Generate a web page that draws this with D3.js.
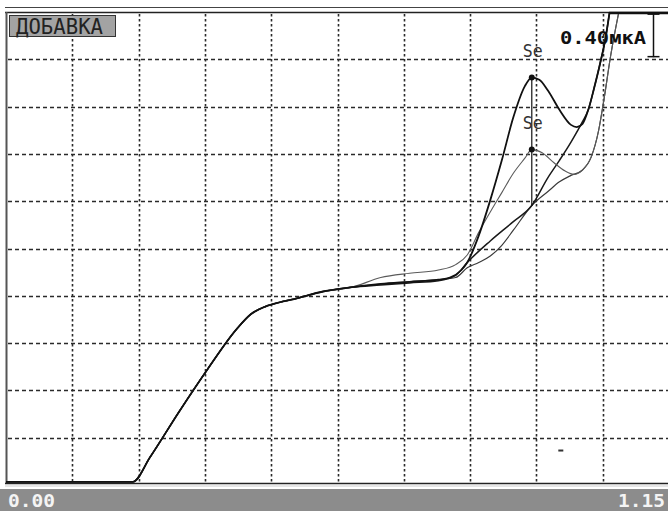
<!DOCTYPE html>
<html><head><meta charset="utf-8">
<script src="https://cdn.jsdelivr.net/npm/d3@7"></script>
<style>html,body{margin:0;padding:0;background:#fff;}svg{display:block;}</style>
</head><body>
<script>
// ---- data (potential in V, current in µA) ----
const xTickLabels = ["0.00", "1.15"];
const xDomain = [0, 1.15];
const yDomain = [0, 4.4];
const gridStepX = 0.115;
const gridStepY = 0.44;

const potentialCommon = [0, 0.22, 0.25, 0.30, 0.35, 0.40, 0.425, 0.45, 0.475, 0.50, 0.55, 0.60];
const currentCommon   = [0.03, 0.03, 0.26, 0.68, 1.08, 1.45, 1.59, 1.66, 1.70, 1.73, 1.80, 1.84];

const potentialA = [0.65,0.70,0.75,0.77,0.79,0.80,0.82,0.84,0.86,0.88,0.90,0.912,0.925,0.94,0.96,0.98,0.99,1.00,1.01,1.02,1.03,1.04,1.047];
const currentA   = [1.87,1.89,1.91,1.93,2.00,2.07,2.32,2.65,3.02,3.42,3.71,3.79,3.77,3.67,3.49,3.35,3.33,3.36,3.49,3.69,3.91,4.16,4.40];

const potentialB = [0.65,0.70,0.75,0.78,0.80,0.82,0.84,0.86,0.88,0.90,0.912,0.93,0.95,0.97,0.985,1.00,1.015,1.028,1.037,1.049,1.063];
const currentB   = [1.93,1.97,2.00,2.05,2.14,2.35,2.54,2.72,2.90,3.04,3.12,3.09,3.00,2.92,2.89,2.93,3.05,3.30,3.58,4.00,4.40];

const potentialC = [0.65,0.70,0.75,0.78,0.80,0.84,0.88,0.912,0.94,0.96,0.98,1.00,1.01,1.02,1.03,1.04,1.047];
const currentC   = [1.86,1.88,1.90,1.95,2.07,2.27,2.45,2.60,2.86,3.02,3.19,3.38,3.49,3.69,3.91,4.16,4.40];

const potentialD = [0.65,0.70,0.75,0.78,0.80,0.82,0.84,0.86,0.88,0.912,0.94,0.96,0.98,1.00,1.015,1.028,1.037,1.049,1.063];
const currentD   = [1.87,1.89,1.91,1.93,2.02,2.07,2.13,2.23,2.37,2.60,2.73,2.82,2.88,2.93,3.05,3.30,3.58,4.00,4.40];

const peakPotential = 0.912;
const peakCurrents = [3.79, 3.12];
const peakBase = 2.60;
const peakLabels = ["Se", "Se"];
const scaleBarValue = 0.40;
const scaleBarTop = 4.38;
const scaleBarLabel = "0.40мкА";
const modeLabel = "ДОБАВКА";
const stray = [[0.958, 0.33]];

// ---- drawing ----
const W = 668, H = 511;
const pLeft = 6, pRight = 669, pTop = 12, pBottom = 485;
const svg = d3.select("body").append("svg").attr("width", W).attr("height", H);

const x = d3.scaleLinear().domain(xDomain).range([pLeft, pRight]);
const y = d3.scaleLinear().domain(yDomain).range([pBottom, pTop]);

svg.append("defs").append("clipPath").attr("id", "plot")
  .append("rect").attr("x", pLeft).attr("y", pTop).attr("width", pRight - pLeft).attr("height", 483.5 - pTop);

// grid
const gx = d3.range(1, 10).map(i => i * gridStepX);
const gy = d3.range(1, 10).map(i => i * gridStepY);
svg.append("g").selectAll("line").data(gx).join("line")
  .attr("x1", d => Math.round(x(d)) + 0.5).attr("x2", d => Math.round(x(d)) + 0.5)
  .attr("y1", pTop + 2).attr("y2", 483)
  .attr("stroke", "#2a2a2a").attr("stroke-width", 1.6).attr("stroke-dasharray", "2.5,2.5");
svg.append("g").selectAll("line").data(gy).join("line")
  .attr("y1", d => Math.round(y(d)) + 0.5).attr("y2", d => Math.round(y(d)) + 0.5)
  .attr("x1", pLeft + 2).attr("x2", W)
  .attr("stroke", "#2a2a2a").attr("stroke-width", 1.6).attr("stroke-dasharray", "4,3");

// frame
svg.append("line").attr("x1", 5).attr("x2", W).attr("y1", 7.5).attr("y2", 7.5).attr("stroke", "#444").attr("stroke-width", 1);
svg.append("line").attr("x1", 5).attr("x2", W).attr("y1", 12.5).attr("y2", 12.5).attr("stroke", "#222").attr("stroke-width", 1.5);
svg.append("line").attr("x1", 6.5).attr("x2", 6.5).attr("y1", 12).attr("y2", 484).attr("stroke", "#555").attr("stroke-width", 2);
svg.append("line").attr("x1", 5).attr("x2", W).attr("y1", 483.5).attr("y2", 483.5).attr("stroke", "#222").attr("stroke-width", 1.5);
svg.append("line").attr("x1", 5).attr("x2", W).attr("y1", 486).attr("y2", 486).attr("stroke", "#ccc").attr("stroke-width", 1);

// curves
const mk = (px, py) => potentialCommon.map((v, i) => [v, currentCommon[i]]).concat(px.map((v, i) => [v, py[i]]));
const line = d3.line().x(d => x(d[0])).y(d => y(d[1])).curve(d3.curveMonotoneX);
const curves = [
  {d: mk(potentialD, currentD), c: "#3a3a3a", w: 1.2},
  {d: mk(potentialC, currentC), c: "#1a1a1a", w: 1.5},
  {d: mk(potentialB, currentB), c: "#5a5a5a", w: 1.1},
  {d: mk(potentialA, currentA), c: "#111", w: 1.8}
];
const cg = svg.append("g").attr("clip-path", "url(#plot)");
cg.selectAll("path").data(curves).join("path")
  .attr("d", d => line(d.d)).attr("fill", "none")
  .attr("stroke", d => d.c).attr("stroke-width", d => d.w).attr("stroke-linejoin", "round");

// thick top segment where curves saturate
svg.append("line").attr("x1", x(1.046)).attr("x2", W).attr("y1", 13).attr("y2", 13).attr("stroke", "#111").attr("stroke-width", 2.5);

// peak marker
svg.append("line").attr("x1", x(peakPotential)).attr("x2", x(peakPotential))
  .attr("y1", y(peakCurrents[0])).attr("y2", y(peakBase)).attr("stroke", "#111").attr("stroke-width", 1.2);
svg.selectAll("circle.pk").data(peakCurrents).join("circle").attr("class", "pk")
  .attr("cx", x(peakPotential)).attr("cy", d => y(d)).attr("r", 3).attr("fill", "#111");
svg.selectAll("text.pk").data(peakCurrents).join("text").attr("class", "pk")
  .attr("x", x(peakPotential) + 1).attr("y", d => y(d) - 21)
  .attr("text-anchor", "middle").attr("font-family", "DejaVu Sans Mono, monospace")
  .attr("font-size", 18).attr("fill", "#333").attr("textLength", 20).attr("lengthAdjust", "spacingAndGlyphs")
  .text((d, i) => peakLabels[i]);
svg.selectAll("rect.stray").data(stray).join("rect").attr("class", "stray")
  .attr("x", d => x(d[0])).attr("y", d => y(d[1])).attr("width", 5).attr("height", 2).attr("fill", "#333");

// scale bar
const sbx = 653.5;
svg.append("line").attr("x1", sbx).attr("x2", sbx).attr("y1", y(scaleBarTop)).attr("y2", y(scaleBarTop - scaleBarValue)).attr("stroke", "#111").attr("stroke-width", 1.5);
svg.append("line").attr("x1", sbx - 6).attr("x2", sbx + 6).attr("y1", y(scaleBarTop)).attr("y2", y(scaleBarTop)).attr("stroke", "#111").attr("stroke-width", 1.5);
svg.append("line").attr("x1", sbx - 6).attr("x2", sbx + 6).attr("y1", y(scaleBarTop - scaleBarValue) - 0.5).attr("y2", y(scaleBarTop - scaleBarValue) - 0.5).attr("stroke", "#111").attr("stroke-width", 1.5);
svg.append("text").attr("x", 560).attr("y", 44).attr("font-family", "DejaVu Sans Mono, monospace")
  .attr("font-weight", "bold").attr("font-size", 17).attr("fill", "#111")
  .attr("textLength", 86).attr("lengthAdjust", "spacingAndGlyphs").text(scaleBarLabel);

// mode label box
svg.append("rect").attr("x", 9.5).attr("y", 15.5).attr("width", 106).attr("height", 21)
  .attr("fill", "#a3a3a3").attr("stroke", "#333").attr("stroke-width", 1);
svg.append("text").attr("x", 16).attr("y", 34).attr("font-family", "DejaVu Sans Mono, monospace")
  .attr("font-size", 21).attr("fill", "#222").attr("textLength", 87).attr("lengthAdjust", "spacingAndGlyphs")
  .text(modeLabel);

// status bar
svg.append("rect").attr("x", 0).attr("y", 489).attr("width", W).attr("height", H - 489).attr("fill", "#8c8c8c");
svg.append("text").attr("x", 8).attr("y", 507).attr("font-family", "DejaVu Sans Mono, monospace")
  .attr("font-weight", "bold").attr("font-size", 17).attr("fill", "#f4f4f4")
  .attr("textLength", 47).attr("lengthAdjust", "spacingAndGlyphs").text(xTickLabels[0]);
svg.append("text").attr("x", 618).attr("y", 507).attr("font-family", "DejaVu Sans Mono, monospace")
  .attr("font-weight", "bold").attr("font-size", 17).attr("fill", "#f4f4f4")
  .attr("textLength", 47).attr("lengthAdjust", "spacingAndGlyphs").text(xTickLabels[1]);
</script>
</body></html>
